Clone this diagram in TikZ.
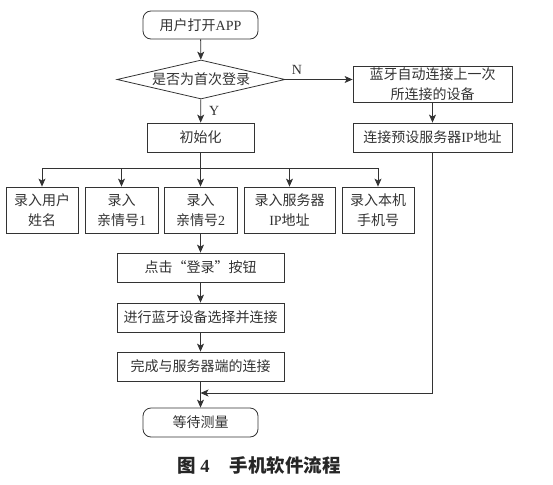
\documentclass[tikz,border=0pt]{standalone}
\usepackage{fontspec}
\setmainfont{Liberation Serif}
\newfontfamily\cjk{Noto Sans CJK SC}
\newcommand\zhtxt[1]{{\cjk #1}}
\usetikzlibrary{shapes.geometric,arrows.meta}
\colorlet{ink}{black!80}
\tikzset{
  base/.style={font=\fontsize{14}{20}\selectfont, text=ink, align=center, inner sep=0pt},
  box/.style={base, draw=ink, line width=0.8pt},
  term/.style={box, rounded corners=8pt, minimum width=115pt, minimum height=28pt},
  dec/.style={base, draw=ink, line width=0.8pt, shape=diamond, aspect=4.4, minimum width=168pt, minimum height=39pt},
  flow/.style={draw=ink, line width=0.8pt, -{Stealth[length=8pt,width=7pt,inset=2pt]}},
  plain/.style={draw=ink, line width=0.8pt},
  lbl/.style={font=\fontsize{14}{16}\selectfont, text=ink, inner sep=0pt}
}
\begin{document}
\begin{tikzpicture}[x=1pt,y=-1pt]
\useasboundingbox (0,0) rectangle (553,484);
% nodes
\node[term] (start) at (200.5,25) {\zhtxt{用户打开}APP};
\node[dec] (ask) at (201,79.5) {\zhtxt{是否为首次登录}};
\node[box, minimum width=159pt, minimum height=36pt] (auto) at (432.5,84) {\zhtxt{蓝牙自动连接上一次}\\\zhtxt{所连接的设备}};
\node[box, minimum width=159pt, minimum height=29pt] (ipc) at (432.5,137.5) {\zhtxt{连接预设服务器}IP\zhtxt{地址}};
\node[box, minimum width=107pt, minimum height=29pt] (init) at (200.5,137.5) {\zhtxt{初始化}};
\node[box, minimum width=72pt, minimum height=46pt] (e1) at (42,210) {\zhtxt{录入用户}\\\zhtxt{姓名}};
\node[box, minimum width=73pt, minimum height=46pt] (e2) at (121.5,210) {\zhtxt{录入}\\\zhtxt{亲情号}1};
\node[box, minimum width=73pt, minimum height=46pt] (e3) at (200.5,210) {\zhtxt{录入}\\\zhtxt{亲情号}2};
\node[box, minimum width=91pt, minimum height=46pt] (e4) at (289.5,210) {\zhtxt{录入服务器}\\IP\zhtxt{地址}};
\node[box, minimum width=72pt, minimum height=46pt] (e5) at (378,210) {\zhtxt{录入本机}\\\zhtxt{手机号}};
\node[box, minimum width=167pt, minimum height=29pt] (click) at (200.5,267.5) {\zhtxt{点击“登录”按钮}};
\node[box, minimum width=167pt, minimum height=29pt] (sel) at (200.5,317.5) {\zhtxt{进行蓝牙设备选择并连接}};
\node[box, minimum width=167pt, minimum height=29pt] (done) at (200.5,366.5) {\zhtxt{完成与服务器端的连接}};
\node[term, minimum height=29pt] (finish) at (200.5,422.5) {\zhtxt{等待测量}};
\node[base, font=\fontsize{18.5}{20}\selectfont\bfseries, text=black!85] (cap) at (259,465) {\zhtxt{图} 4\hspace{1.1em}\zhtxt{手机软件流程}};
% coordinates
\coordinate (bus) at (200.5,168);
\coordinate (merge) at (200.5,393);
% connectors
\draw[flow] (start) -- (ask);
\draw[flow] (ask.east) -- (ask.east -| auto.west) node[lbl, pos=0.17, above=5pt] (nl) {N};
\draw[flow] (ask) -- (init) node[lbl, pos=0.5, right=8pt] (yl) {Y};
\draw[flow] (auto) -- (ipc);
\draw[plain] (init.south) -- (bus);
\draw[plain] (bus -| e1.north) -- (bus -| e5.north);
\foreach \e in {e1,e2,e3,e4,e5} \draw[flow] (bus -| \e.north) -- (\e.north);
\draw[flow] (e3) -- (click);
\draw[flow] (click) -- (sel);
\draw[flow] (sel) -- (done);
\draw[flow] (done) -- (finish);
\draw[flow] (ipc.south) -- (ipc.south |- merge) -- (merge);
\end{tikzpicture}
\end{document}
